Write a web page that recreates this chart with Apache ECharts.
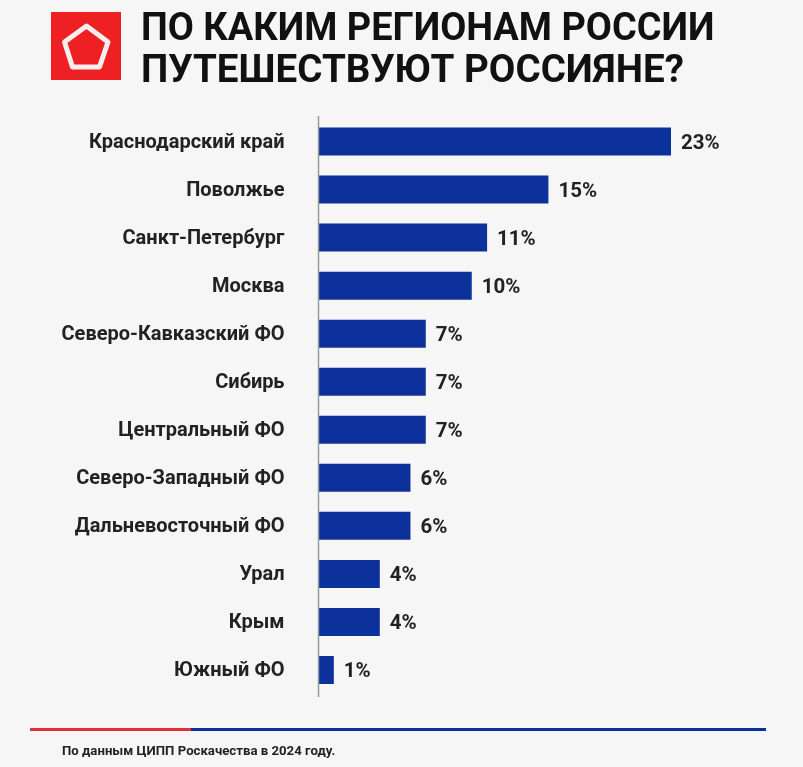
<!DOCTYPE html>
<html>
<head>
<meta charset="utf-8">
<title>Регионы</title>
<style>
  html, body { margin: 0; padding: 0; background: #f6f6f6; }
  #chart { width: 803px; height: 767px; }
</style>
<script src="https://cdn.jsdelivr.net/npm/echarts@6/dist/echarts.min.js"></script>
</head>
<body>
<div id="chart"></div>
<script>
const titleLines = ["ПО КАКИМ РЕГИОНАМ РОССИИ", "ПУТЕШЕСТВУЮТ РОССИЯНЕ?"];
const footnote = "По данным ЦИПП Роскачества в 2024 году.";
const regions = [
  "Краснодарский край", "Поволжье", "Санкт-Петербург", "Москва",
  "Северо-Кавказский ФО", "Сибирь", "Центральный ФО", "Северо-Западный ФО",
  "Дальневосточный ФО", "Урал", "Крым", "Южный ФО",
];
const shares = [23, 15, 11, 10, 7, 7, 7, 6, 6, 4, 4, 1];

const chart = echarts.init(document.getElementById("chart"), null, { renderer: "canvas" });
const FONT = "Roboto";

chart.setOption({
  backgroundColor: "#f6f6f6",
  animation: false,
  grid: { left: 318.5, top: 117.5, width: 352.5, height: 576.5 },
  xAxis: { type: "value", min: 0, max: 23, show: false },
  yAxis: {
    type: "category",
    data: regions,
    inverse: true,
    axisLine: { show: false },
    axisTick: { show: false },
    axisLabel: {
      margin: 34,
      formatter: (name) => `{a|${name}}`,
      rich: {
        a: {
          color: "#222",
          fontFamily: FONT,
          fontWeight: "bold",
          fontSize: 20,
          padding: [3, 0, 0, 0],
        },
      },
    },
  },
  series: [
    {
      type: "bar",
      data: shares,
      barWidth: 28,
      itemStyle: { color: "#0c319b" },
      label: {
        show: true,
        position: "right",
        distance: 10,
        offset: [0, 2],
        formatter: "{c}%",
        color: "#222",
        fontFamily: FONT,
        fontWeight: "bold",
        fontSize: 20.5,
      },
    },
  ],
  graphic: [
    { type: "rect", shape: { x: 51, y: 12, width: 70, height: 68 }, style: { fill: "#ee2024" } },
    {
      type: "polygon",
      shape: { points: [[86.5, 26], [108, 42], [99.5, 67], [72.5, 67], [64.5, 42]] },
      style: { fill: "none", stroke: "#f8eeee", lineWidth: 5, lineJoin: "round" },
    },
    {
      type: "text", x: 141, y: 30.5, scaleX: 0.997,
      style: { text: titleLines[0], fill: "#111", font: "bold 38px Roboto", textVerticalAlign: "middle" },
    },
    {
      type: "text", x: 141, y: 72.5, scaleX: 1.015,
      style: { text: titleLines[1], fill: "#111", font: "bold 38px Roboto", textVerticalAlign: "middle" },
    },
    {
      type: "line", z: 5,
      shape: { x1: 318.5, y1: 116, x2: 318.5, y2: 697 },
      style: { stroke: "#9a9a9a", lineWidth: 1.5 },
    },
    { type: "rect", shape: { x: 30, y: 728, width: 161, height: 3 }, style: { fill: "#e0313a" } },
    { type: "rect", shape: { x: 191, y: 728, width: 575, height: 3 }, style: { fill: "#0c319b" } },
    {
      type: "text", x: 62, y: 752,
      style: { text: footnote, fill: "#222", font: "bold 13.2px Roboto", textVerticalAlign: "middle" },
    },
  ],
});
</script>
</body>
</html>
